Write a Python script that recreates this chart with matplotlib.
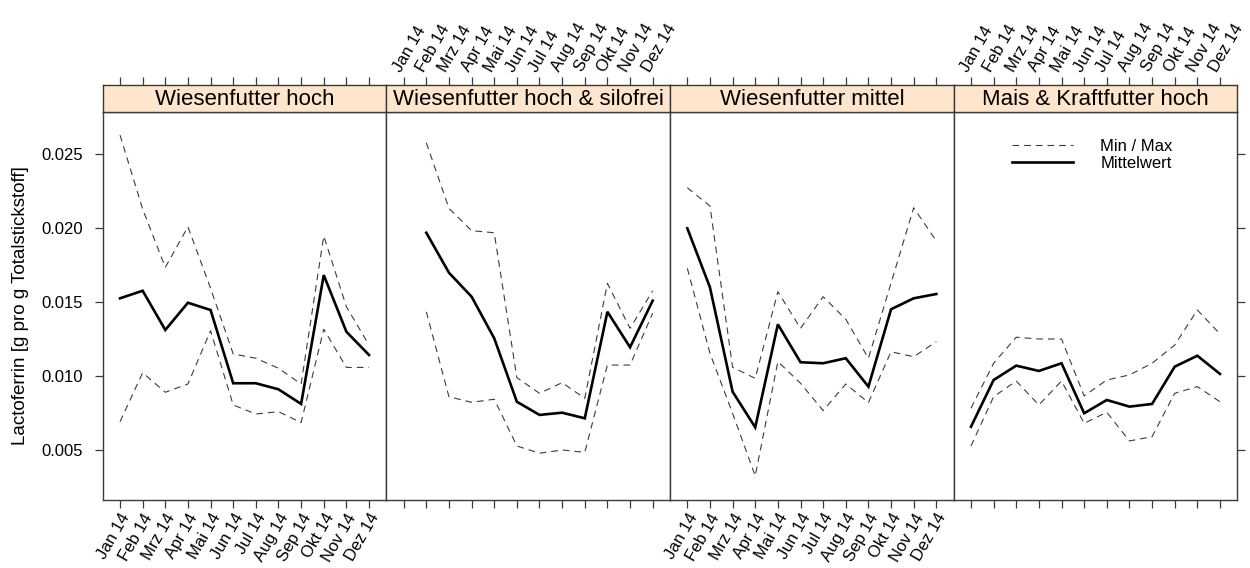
import numpy as np
import matplotlib
matplotlib.use("Agg")
import matplotlib.pyplot as plt
from matplotlib.lines import Line2D

plt.rcParams['font.family'] = ['Liberation Sans', 'DejaVu Sans']

months = ["Jan 14", "Feb 14", "Mrz 14", "Apr 14", "Mai 14", "Jun 14",
          "Jul 14", "Aug 14", "Sep 14", "Okt 14", "Nov 14", "Dez 14"]
groups = ["Wiesenfutter hoch", "Wiesenfutter hoch & silofrei",
          "Wiesenfutter mittel", "Mais & Kraftfutter hoch"]

nan = np.nan
# Wiesenfutter hoch
wh_mean = [0.01527, 0.01578, 0.01313, 0.01497, 0.01448, 0.00953, 0.00953, 0.00912, 0.00813, 0.01684, 0.01301, 0.01144]
wh_max  = [0.02630, 0.02130, 0.01736, 0.02010, 0.01595, 0.01151, 0.01122, 0.01054, 0.00948, 0.01948, 0.01470, 0.01211]
wh_min  = [0.00693, 0.01024, 0.00892, 0.00948, 0.01308, 0.00806, 0.00745, 0.00761, 0.00687, 0.01318, 0.01060, 0.01060]
# Wiesenfutter hoch & silofrei
ws_mean = [nan, 0.01970, 0.01700, 0.01538, 0.01257, 0.00828, 0.00739, 0.00754, 0.00716, 0.01436, 0.01196, 0.01511]
ws_max  = [nan, 0.02578, 0.02135, 0.01984, 0.01970, 0.00991, 0.00885, 0.00957, 0.00851, 0.01628, 0.01324, 0.01578]
ws_min  = [nan, 0.01436, 0.00862, 0.00824, 0.00845, 0.00529, 0.00480, 0.00502, 0.00486, 0.01076, 0.01076, 0.01426]
# Wiesenfutter mittel
wm_mean = [0.02000, 0.01601, 0.00896, 0.00655, 0.01351, 0.01095, 0.01088, 0.01122, 0.00930, 0.01453, 0.01527, 0.01556]
wm_max  = [0.02274, 0.02151, 0.01061, 0.00986, 0.01572, 0.01324, 0.01538, 0.01385, 0.01122, 0.01630, 0.02139, 0.01914]
wm_min  = [0.01730, 0.01155, 0.00750, 0.00326, 0.01099, 0.00953, 0.00768, 0.00948, 0.00822, 0.01166, 0.01132, 0.01234]
# Mais & Kraftfutter hoch
mk_mean = [0.00659, 0.00975, 0.01072, 0.01036, 0.01088, 0.00750, 0.00840, 0.00795, 0.00813, 0.01065, 0.01139, 0.01016]
mk_max  = [0.00784, 0.01088, 0.01264, 0.01252, 0.01252, 0.00867, 0.00975, 0.01009, 0.01088, 0.01211, 0.01448, 0.01286]
mk_min  = [0.00529, 0.00862, 0.00968, 0.00806, 0.00968, 0.00682, 0.00757, 0.00563, 0.00592, 0.00885, 0.00930, 0.00828]

means = [wh_mean, ws_mean, wm_mean, mk_mean]
maxs = [wh_max, ws_max, wm_max, mk_max]
mins = [wh_min, ws_min, wm_min, mk_min]

yticks = [0.005, 0.010, 0.015, 0.020, 0.025]

W, H = 1250, 568
fig = plt.figure(figsize=(W / 100, H / 100), dpi=100)

left_px, right_px = 102.7, 1237.3
pw = (right_px - left_px) / 4
strip_top, strip_bot, panel_bot = 85.0, 111.7, 500.0

border = "#3a3a3a"
dash_col = "#3c3c3c"
x = np.arange(1, 13)
xlim = (0.235, 12.765)
ylim = (0.00164, 0.02788)
ticklen = 5.8
tick_fs = 12

for i in range(4):
    x0 = left_px + i * pw
    ax = fig.add_axes([x0 / W, 1 - panel_bot / H, pw / W, (panel_bot - strip_bot) / H])
    sx = fig.add_axes([x0 / W, 1 - strip_bot / H, pw / W, (strip_bot - strip_top) / H], sharex=ax)

    ax.plot(x, maxs[i], color=dash_col, lw=0.8, dashes=(6, 4.5))
    ax.plot(x, mins[i], color=dash_col, lw=0.8, dashes=(6, 4.5))
    ax.plot(x, means[i], color="black", lw=1.9, solid_joinstyle='miter')

    ax.set_xlim(*xlim)
    ax.set_ylim(*ylim)
    for a in (ax, sx):
        for s in a.spines.values():
            s.set_color(border)
            s.set_linewidth(1.0)

    # y axis
    ax.set_yticks(yticks)
    ax.tick_params(axis='y', direction='out', length=ticklen, width=0.9, color=border,
                   left=(i == 0), labelleft=(i == 0), right=(i == 3), labelright=False,
                   labelsize=tick_fs, pad=8.5)
    if i == 0:
        ax.set_yticklabels([f"{v:.3f}" for v in yticks])
        ax.set_ylabel("Lactoferrin [g pro g Totalstickstoff]", fontsize=13.5, labelpad=9)

    # bottom x axis
    ax.set_xticks(x)
    ax.tick_params(axis='x', direction='out', length=ticklen, width=0.9, color=border,
                   bottom=True, top=False, labelbottom=(i % 2 == 0), labeltop=False,
                   labelsize=tick_fs, pad=2)
    if i % 2 == 0:
        ax.set_xticklabels(months, rotation=60, ha='right', va='top', rotation_mode='anchor')

    # strip
    sx.set_facecolor("#ffe5cc")
    sx.set_yticks([])
    sx.set_xticks(x)
    sx.tick_params(axis='x', direction='out', length=ticklen, width=0.9, color=border,
                   bottom=False, top=True, labelbottom=False, labeltop=(i % 2 == 1),
                   labelsize=tick_fs, pad=2)
    if i % 2 == 1:
        sx.set_xticklabels(months)
        for lab in sx.xaxis.get_ticklabels():
            lab.set_rotation(60)
            lab.set_ha('left')
            lab.set_va('bottom')
            lab.set_rotation_mode('anchor')
    sx.text(0.5, 0.45, groups[i], transform=sx.transAxes, ha='center', va='center',
            fontsize=16, color="black")

    if i == 3:
        handles = [Line2D([], [], color=dash_col, lw=0.8, dashes=(6, 4.5)),
                   Line2D([], [], color="black", lw=1.9)]
        ax.legend(handles, ["Min / Max", "Mittelwert"], loc='upper left',
                  bbox_to_anchor=(0.205, 0.93), frameon=False, fontsize=12,
                  handlelength=3.7, handletextpad=1.6, labelspacing=0.1,
                  borderpad=0, borderaxespad=0)

fig.savefig("out.png", dpi=100)
